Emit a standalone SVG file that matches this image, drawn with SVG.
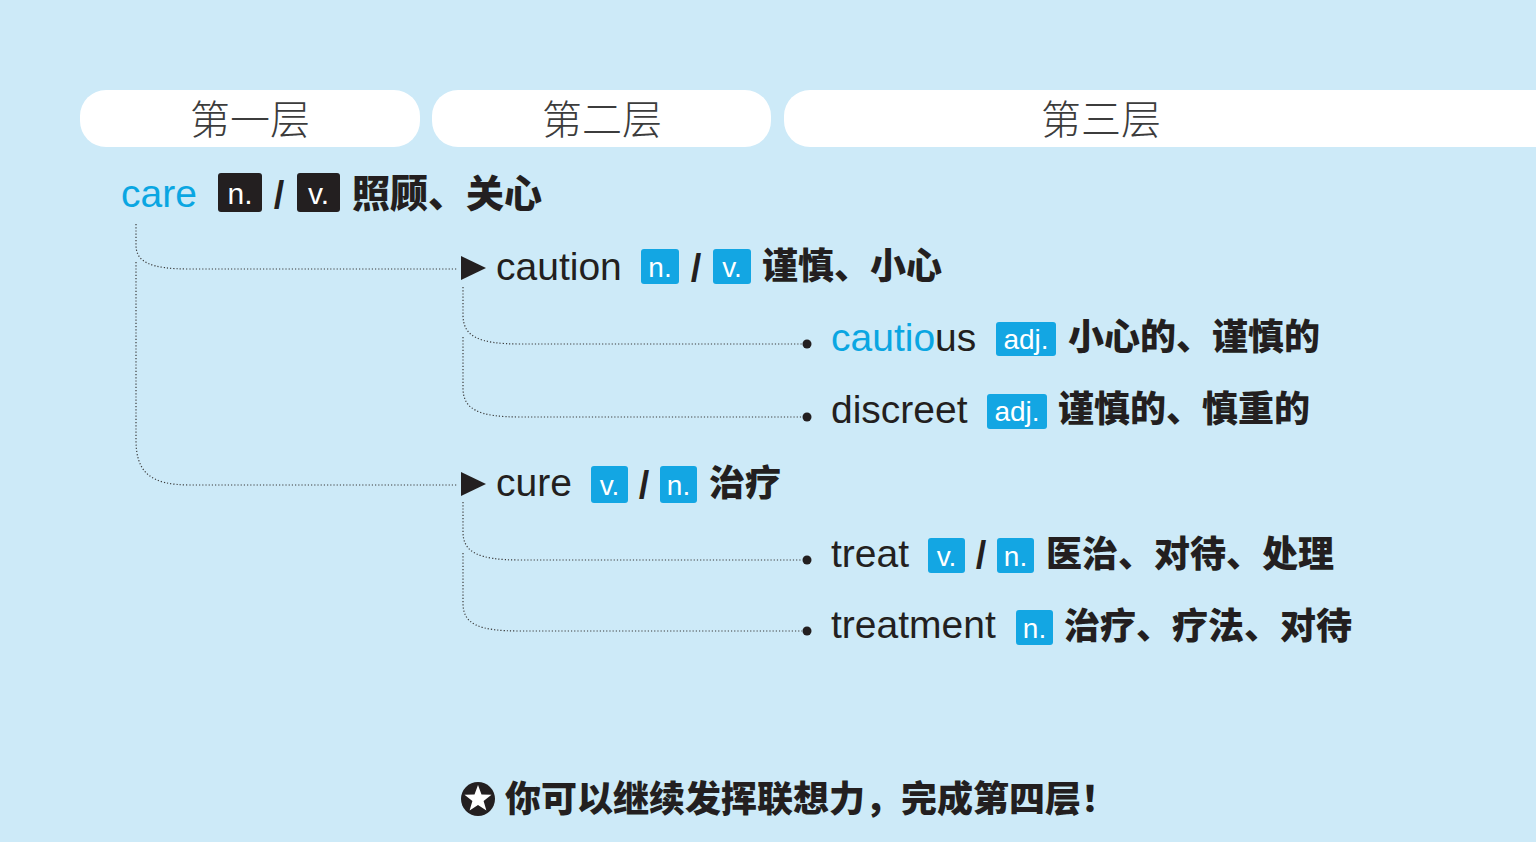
<svg xmlns="http://www.w3.org/2000/svg" width="1536" height="842" viewBox="0 0 1536 842">
<defs>
<style>
.bg{fill:#cdeaf8}
.pill{fill:#ffffff}
.hd{font-family:"Noto Sans CJK SC",sans-serif;font-weight:300;font-size:40px;fill:#3c3c3c;text-anchor:middle}
.en{font-family:"Liberation Sans",Arial,sans-serif;font-size:39px;fill:#231f20}
.blue{fill:#0aa6e2}
.zh{font-family:"Noto Sans CJK SC",sans-serif;font-weight:900;font-size:36px;fill:#231f20}
.bb{fill:#13a6e3}
.bk{fill:#231f20}
.bt{font-family:"Liberation Sans",Arial,sans-serif;font-size:28px;fill:#ffffff;text-anchor:middle}
.sl{font-family:"Liberation Sans",Arial,sans-serif;font-weight:bold;font-size:38px;fill:#231f20;text-anchor:middle}
.con{fill:none;stroke:#3a3a3a;stroke-width:1.2;stroke-dasharray:1.2 2}
.dot{fill:#231f20}
</style>
</defs>
<rect class="bg" x="0" y="0" width="1536" height="842"/>
<g id="headers">
<rect class="pill" x="80" y="90" width="340" height="57" rx="26"/>
<rect class="pill" x="432" y="90" width="339" height="57" rx="26"/>
<rect class="pill" x="784" y="90" width="800" height="57" rx="26"/>
<text class="hd" x="250" y="134">第一层</text>
<text class="hd" x="602" y="134">第二层</text>
<text class="hd" x="1101" y="134">第三层</text>
</g>
<g id="connectors">
<path class="con" d="M136,224 L136,245 C136,262 150,269 190,269 L458,269"/>
<path class="con" d="M136,262 L136,440 C136,472 150,485 190,485 L458,485"/>
<path class="con" d="M463,287 L463,315 C463,336 478,344 520,344 L802,344"/>
<path class="con" d="M463,337 L463,388 C463,409 478,417 520,417 L802,417"/>
<path class="con" d="M463,502 L463,532 C463,552 478,560 520,560 L802,560"/>
<path class="con" d="M463,553 L463,603 C463,624 478,631 520,631 L802,631"/>
<polygon class="dot" points="461,256 486,268 461,280"/>
<polygon class="dot" points="461,472 486,484 461,496"/>
<circle class="dot" cx="807" cy="344" r="4.5"/>
<circle class="dot" cx="807" cy="417" r="4.5"/>
<circle class="dot" cx="807" cy="560" r="4.5"/>
<circle class="dot" cx="807" cy="631" r="4.5"/>
</g>
<g id="care">
<text class="en blue" x="121" y="207">care</text>
<rect class="bk" x="218" y="173" width="44" height="39" rx="3"/>
<text class="bt" style="font-size:30px" x="240" y="204">n.</text>
<text class="sl" x="279" y="208">/</text>
<rect class="bk" x="297" y="173" width="43" height="39" rx="3"/>
<text class="bt" style="font-size:30px" x="318.5" y="204">v.</text>
<text class="zh" style="font-size:38px" x="352" y="207">照顾、关心</text>
</g>
<g id="caution">
<text class="en" x="496" y="280">caution</text>
<rect class="bb" x="641" y="249" width="38" height="35" rx="3"/>
<text class="bt" x="660" y="277">n.</text>
<text class="sl" x="696" y="281">/</text>
<rect class="bb" x="713" y="249" width="38" height="35" rx="3"/>
<text class="bt" x="732" y="277">v.</text>
<text class="zh" x="762" y="279">谨慎、小心</text>
</g>
<g id="cautious">
<text class="en" x="831" y="351"><tspan class="blue">cautio</tspan>us</text>
<rect class="bb" x="996" y="322" width="60" height="34" rx="3"/>
<text class="bt" x="1026" y="349">adj.</text>
<text class="zh" x="1068" y="350">小心的、谨慎的</text>
</g>
<g id="discreet">
<text class="en" x="831" y="423">discreet</text>
<rect class="bb" x="987" y="394" width="60" height="35" rx="3"/>
<text class="bt" x="1017" y="421">adj.</text>
<text class="zh" x="1058" y="422">谨慎的、慎重的</text>
</g>
<g id="cure">
<text class="en" x="496" y="496">cure</text>
<rect class="bb" x="591" y="466" width="37" height="37" rx="3"/>
<text class="bt" x="609.5" y="495">v.</text>
<text class="sl" x="644" y="498">/</text>
<rect class="bb" x="660" y="466" width="37" height="37" rx="3"/>
<text class="bt" x="678.5" y="495">n.</text>
<text class="zh" x="709" y="496">治疗</text>
</g>
<g id="treat">
<text class="en" x="831" y="567">treat</text>
<rect class="bb" x="928" y="538" width="37" height="35" rx="3"/>
<text class="bt" x="946.5" y="566">v.</text>
<text class="sl" x="981" y="568">/</text>
<rect class="bb" x="997" y="538" width="37" height="35" rx="3"/>
<text class="bt" x="1015.5" y="566">n.</text>
<text class="zh" x="1046" y="567">医治、对待、处理</text>
</g>
<g id="treatment">
<text class="en" x="831" y="638">treatment</text>
<rect class="bb" x="1016" y="610" width="37" height="35" rx="3"/>
<text class="bt" x="1034.5" y="638">n.</text>
<text class="zh" x="1064" y="639">治疗、疗法、对待</text>
</g>
<g id="footer">
<circle class="dot" cx="478" cy="799" r="17"/>
<polygon fill="#ffffff" points="478,785 481.5,794.5 491.5,794.8 483.6,801 486.4,810.6 478,805 469.6,810.6 472.4,801 464.5,794.8 474.5,794.5"/>
<text class="zh" style="font-size:36px" x="505" y="812">你可以继续发挥联想力，完成第四层！</text>
</g>
</svg>
